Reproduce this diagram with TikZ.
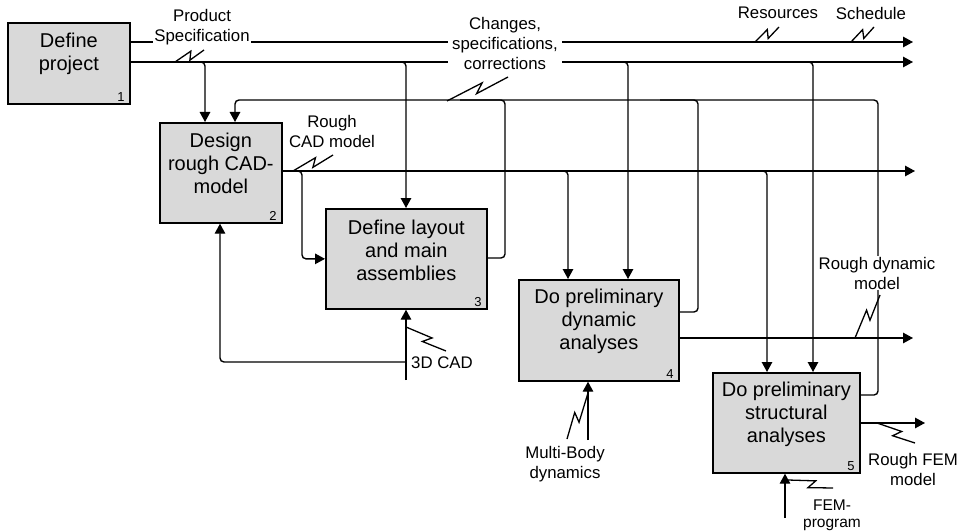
\documentclass[tikz,border=0pt]{standalone}
\usepackage{fontspec}
\setmainfont{Liberation Sans}
\usetikzlibrary{arrows.meta,calc}

% IDEF0 squiggle: a line with a small lightning-shaped kink in the middle
\newcommand\sqg[2]{%
  \draw[squig] (#1) -- ($(#1)!0.6!(#2)!4pt!90:(#2)$)
                    -- ($(#1)!0.46!(#2)!4pt!-90:(#2)$) -- (#2);}

\tikzset{
  proc/.style={draw, line width=1.7pt, fill=black!15, anchor=north west, inner sep=0pt},
  proctext/.style={align=center, font=\fontsize{20}{23}\selectfont, inner sep=0pt},
  procnum/.style={font=\fontsize{13}{14}\selectfont, anchor=south east, inner sep=0pt},
  flow/.style={line width=1.4pt, rounded corners=4pt},
  arr/.style={flow, -{Triangle[length=10pt,width=10.5pt]}},
  lbl/.style={align=center, font=\fontsize{16.8}{20}\selectfont, inner sep=1pt},
  squig/.style={line width=1.3pt, line join=miter},
}

\begin{document}
\begin{tikzpicture}[x=1pt,y=-1pt]
\useasboundingbox (0,0) rectangle (966,532);

% ---------------- activities ----------------
\node[proc, minimum width=122pt, minimum height=81pt]  (p1) at (7,22)   {};
\node[proc, minimum width=122pt, minimum height=100pt] (p2) at (159,122) {};
\node[proc, minimum width=161pt, minimum height=100pt] (p3) at (325,208) {};
\node[proc, minimum width=160pt, minimum height=101pt] (p4) at (518,279) {};
\node[proc, minimum width=147pt, minimum height=100pt] (p5) at (712,372) {};

\node[proctext] (p1t) at ([yshift=10pt]p1.center) {Define\\project};
\node[proctext] (p2t) at ([yshift=9.5pt]p2.center) {Design\\rough CAD-\\model};
\node[proctext] (p3t) at ([yshift=9pt]p3.center) {Define layout\\and main\\assemblies};
\node[proctext] (p4t) at ([yshift=9pt]p4.center) {Do preliminary\\dynamic\\analyses};
\node[proctext] (p5t) at ([yshift=8.5pt]p5.center) {Do preliminary\\structural\\analyses};

\node[procnum] (p1n) at ([xshift=-6pt,yshift=3pt]p1.south east) {1};
\node[procnum] (p2n) at ([xshift=-6pt,yshift=3pt]p2.south east) {2};
\node[procnum] (p3n) at ([xshift=-6pt,yshift=3pt]p3.south east) {3};
\node[procnum] (p4n) at ([xshift=-6pt,yshift=3pt]p4.south east) {4};
\node[procnum] (p5n) at ([xshift=-6pt,yshift=3pt]p5.south east) {5};

% ---------------- free ends ----------------
\coordinate (outSpec) at (913,42);
\coordinate (outChg)  at (913,62);
\coordinate (outCAD)  at (915,171);
\coordinate (outDyn)  at (913,338);
\coordinate (outFEM)  at (925,423);
\coordinate (inCAD3D) at (406,380);
\coordinate (inMBD)   at (588,440);
\coordinate (inFEMp)  at (785,518);

% ---------------- outputs of project definition ----------------
\draw[arr] (p1.east |- outSpec) -- (outSpec);
\draw[arr] (p1.east |- outChg) -- (outChg);
\draw[arr] (p1.east |- outChg) -| (p2.north -| 205,0);
\draw[arr] (p1.east |- outChg) -| (p3.north -| inCAD3D);
\draw[arr] (p1.east |- outChg) -| (p4.north -| 628,0);
\draw[arr] (p1.east |- outChg) -| (p5.north -| 813,0);

% ---------------- feedback: changes, specifications, corrections ----------------
\draw[arr]  (p5.east |- 0,395) -| (878,100) -| (p2.north -| 235,0);
\draw[flow] (p3.east |- 0,258) -| (505,100) -- (460,100);
\draw[flow] (p4.east |- 0,312) -| (698,100) -- (660,100);

% ---------------- rough CAD model ----------------
\draw[arr] (p2.east |- outCAD) -- (outCAD);
\draw[arr] (p2.east |- outCAD) -| ($(p3.west)+(-23,0)$) -- (p3.west);
\draw[arr] (p2.east |- outCAD) -| (p4.north -| 568,0);
\draw[arr] (p2.east |- outCAD) -| (p5.north -| 767,0);

% ---------------- analysis outputs ----------------
\draw[arr] (p4.east |- outDyn) -- (outDyn);
\draw[arr] (p5.east |- outFEM) -- (outFEM);

% ---------------- mechanisms ----------------
\draw[arr] (inCAD3D) -- (p3.south -| inCAD3D);
\draw[arr] (inCAD3D |- 0,362) -| (p2.south -| 220,0);
\draw[arr] (inMBD) -- (p4.south -| inMBD);
\draw[arr] (inFEMp) -- (p5.south -| inFEMp);

% ---------------- labels ----------------
\node[lbl, fill=white] (lSpec) at (202,27) {Product\\Specification};
\node[lbl, fill=white, inner xsep=4pt] (lChg) at (505,43) {Changes,\\specifications,\\corrections};
\node[lbl] (lRes) at (778,13) {Resources};
\node[lbl] (lSch) at (871,13) {Schedule};
\node[lbl] (lCAD) at (332,131) {Rough\\CAD model};
\node[lbl, anchor=west] (l3D) at (410,363) {3D CAD};
\node[lbl] (lMBD) at (565,464) {Multi-Body\\dynamics};
\node[lbl, fill=white] (lDyn) at (877,273) {Rough dynamic\\model};
\node[lbl] (lFEM) at (913,469) {Rough FEM\\model};
\node[lbl, font=\fontsize{15.5}{17}\selectfont] (lFEMp) at (832,515) {FEM-\\program};

% ---------------- squiggles tying labels to their arrows ----------------
\coordinate (sqSpecA) at (175,62);  \coordinate (sqSpecB) at (204,50);
\coordinate (sqChgA)  at (447,101); \coordinate (sqChgB)  at (508,77);
\coordinate (sqResA)  at (755,42);  \coordinate (sqResB)  at (779,27);
\coordinate (sqSchA)  at (851,42);  \coordinate (sqSchB)  at (874,27);
\coordinate (sqCADA)  at (293,171); \coordinate (sqCADB)  at (333,155);
\coordinate (sq3DA)   at (406,327); \coordinate (sq3DB)   at (446,351);
\coordinate (sqMBDA)  at (588,393); \coordinate (sqMBDB)  at (567,439);
\coordinate (sqDynA)  at (855,338); \coordinate (sqDynB)  at (880,295);
\coordinate (sqFEMA)  at (877,423); \coordinate (sqFEMB)  at (915,443);
\coordinate (sqFEMpA) at (788,480); \coordinate (sqFEMpB) at (833,488);

\sqg{sqSpecA}{sqSpecB}
\sqg{sqChgA}{sqChgB}
\sqg{sqResA}{sqResB}
\sqg{sqSchA}{sqSchB}
\sqg{sqCADA}{sqCADB}
\sqg{sq3DA}{sq3DB}
\sqg{sqMBDA}{sqMBDB}
\sqg{sqDynA}{sqDynB}
\sqg{sqFEMA}{sqFEMB}
\sqg{sqFEMpA}{sqFEMpB}

\end{tikzpicture}
\end{document}
